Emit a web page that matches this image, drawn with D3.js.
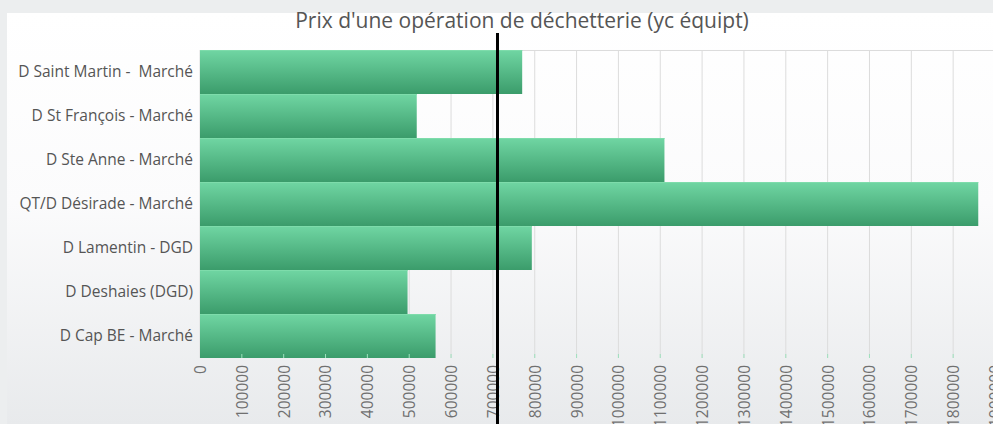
<!DOCTYPE html>
<html>
<head>
<meta charset="utf-8">
<script src="https://cdn.jsdelivr.net/npm/d3@7"></script>
<style>
html,body{margin:0;padding:0;overflow:hidden;background:#eceeef;}
svg{display:block;font-family:"Open Sans",sans-serif;}
</style>
</head>
<body>
<script>
const categories = ["D Saint Martin -  Marché","D St François - Marché","D Ste Anne - Marché","QT/D Désirade - Marché","D Lamentin - DGD","D Deshaies (DGD)","D Cap BE - Marché"];
const values = [770000, 518000, 1110000, 1860000, 793000, 496000, 563000];
const referenceValue = 711000;
const tickValues = [0,100000,200000,300000,400000,500000,600000,700000,800000,900000,1000000,1100000,1200000,1300000,1400000,1500000,1600000,1700000,1800000,1900000];
const title = "Prix d'une opération de déchetterie (yc équipt)";

const W = 993, H = 424;
const svg = d3.select("body").append("svg").attr("width", W).attr("height", H);
const defs = svg.append("defs");
const pg = defs.append("linearGradient").attr("id","panelGrad").attr("x1",0).attr("y1",0).attr("x2",0).attr("y2",1);
pg.append("stop").attr("offset","0%").attr("stop-color","#ffffff");
pg.append("stop").attr("offset","45%").attr("stop-color","#fbfbfc");
pg.append("stop").attr("offset","100%").attr("stop-color","#e7e9eb");
const bg = defs.append("linearGradient").attr("id","barGrad").attr("x1",0).attr("y1",0).attr("x2",0).attr("y2",1);
bg.append("stop").attr("offset","0%").attr("stop-color","#70d6a3");
bg.append("stop").attr("offset","100%").attr("stop-color","#3b9c6b");

svg.append("rect").attr("x",0).attr("y",0).attr("width",W).attr("height",H).attr("fill","#eceeef");
svg.append("rect").attr("x",7).attr("y",13).attr("width",W).attr("height",H).attr("fill","url(#panelGrad)");

const x = d3.scaleLinear().domain([0,1900000]).range([200,995]);
const y = d3.scaleBand().domain(categories).range([50,358]).padding(0);

// grid
svg.append("g").selectAll("line").data(tickValues).join("line")
  .attr("x1",d=>x(d)).attr("x2",d=>x(d)).attr("y1",50).attr("y2",358)
  .attr("stroke","#dcdcdc").attr("stroke-width",1);
svg.append("line").attr("x1",200).attr("x2",W).attr("y1",50.5).attr("y2",50.5).attr("stroke","#dcdcdc");

// bars
svg.append("g").selectAll("rect").data(values).join("rect")
  .attr("x",x(0)).attr("y",(d,i)=>y(categories[i]))
  .attr("width",d=>x(d)-x(0)).attr("height",y.bandwidth())
  .attr("fill","url(#barGrad)");
svg.append("g").selectAll("line").data(values).join("line")
  .attr("x1",x(0)).attr("x2",d=>x(d))
  .attr("y1",(d,i)=>y(categories[i])+0.5).attr("y2",(d,i)=>y(categories[i])+0.5)
  .attr("stroke","#7edcab").attr("stroke-width",1);

// y axis labels
const ya = svg.append("g").attr("transform","translate(200,0)")
  .call(d3.axisLeft(y).tickSize(0).tickPadding(7));
ya.select(".domain").remove();
ya.selectAll("text").attr("font-size",15.5).attr("fill","#555")
  .attr("font-family","'Open Sans',sans-serif").style("white-space","pre");

// x axis
const xa = svg.append("g").attr("transform","translate(0,358)")
  .call(d3.axisBottom(x).tickValues(tickValues).tickFormat(d3.format("d")).tickSize(0).tickPadding(0));
xa.select(".domain").remove();
xa.selectAll("text")
  .attr("font-size",15.5).attr("fill","#707070").attr("font-family","'Open Sans',sans-serif")
  .attr("transform","rotate(-90)").attr("text-anchor","end")
  .attr("x",-7).attr("y",0).attr("dy","0.35em");
// small tick marks
svg.append("g").selectAll("line").data(tickValues.slice(1)).join("line")
  .attr("x1",d=>x(d)).attr("x2",d=>x(d)).attr("y1",354).attr("y2",358)
  .attr("stroke","#9fe0bd").attr("stroke-width",1);

// reference line
svg.append("line").attr("x1",x(referenceValue)).attr("x2",x(referenceValue))
  .attr("y1",33).attr("y2",H).attr("stroke","#000").attr("stroke-width",3);

// title
svg.append("text").attr("x",522).attr("y",28).attr("text-anchor","middle")
  .attr("font-size",21).attr("fill","#555").attr("font-family","'Open Sans',sans-serif")
  .text(title);
</script>
</body>
</html>
